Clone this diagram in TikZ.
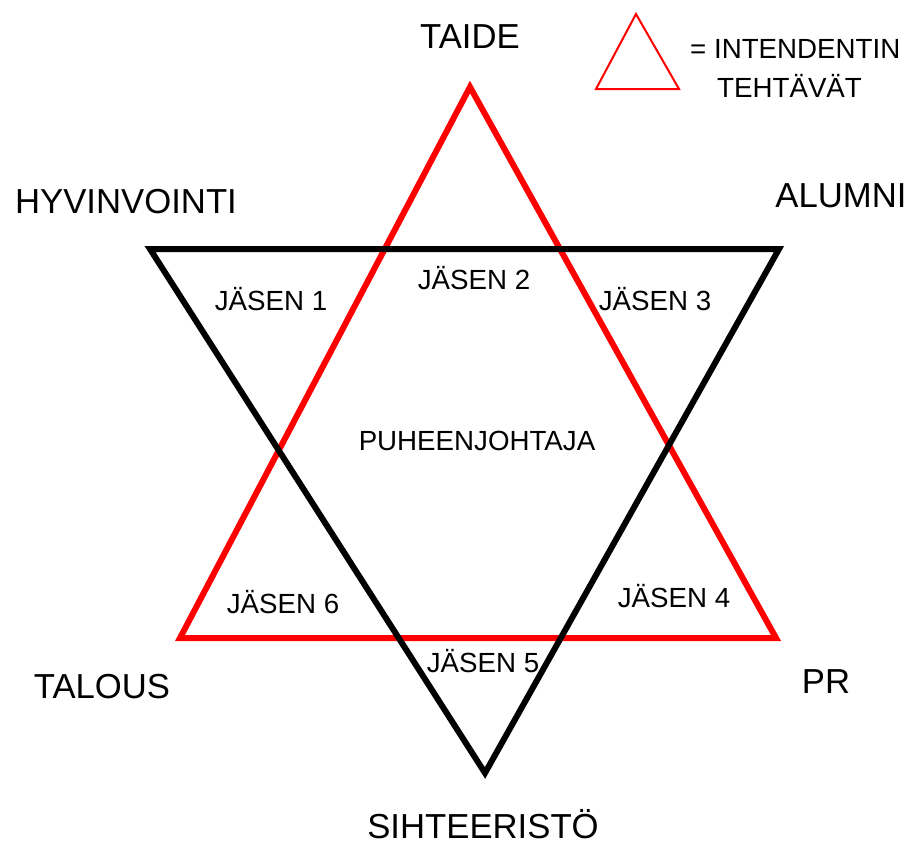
\documentclass[tikz,border=0pt]{standalone}
\usepackage{fontspec}
\setmainfont{Liberation Sans}
\usepackage{tikz}
\usetikzlibrary{calc}

\begin{document}
\begin{tikzpicture}[x=1pt, y=-1pt,
    area/.style={anchor=base, font=\fontsize{34.7}{40}\selectfont},
    member/.style={anchor=base, font=\fontsize{27.7}{32}\selectfont},
    intendent/.style={draw=red, line width=6pt, line join=miter},
    secretary/.style={draw=black, line width=6pt, line join=miter}]
    \useasboundingbox (0,0) rectangle (911,844);

    % red triangle
    \coordinate (T) at (470,87);
    \coordinate (L) at (180,638);
    \coordinate (R) at (776,638);
    % black triangle
    \coordinate (HL) at (150,249);
    \coordinate (HR) at (779,249);
    \coordinate (S) at (485,773);

    \draw[intendent] (T) -- (R) -- (L) -- cycle;
    \draw[secretary] (HL) -- (HR) -- (S) -- cycle;

    \node[area] (taide) at (470,48) {TAIDE};
    \node[area] (hyvinvointi) at (126,213) {HYVINVOINTI};
    \node[area] (alumni) at (841,207) {ALUMNI};
    \node[area] (talous) at (102,698) {TALOUS};
    \node[area] (pr) at (826,693) {PR};
    \node[area] (sihteeristo) at (483,838) {SIHTEERISTÖ};

    \node[member] (j2) at (474,289) {JÄSEN 2};
    \node[member] (j1) at (271,310) {JÄSEN 1};
    \node[member] (j3) at (655,310) {JÄSEN 3};
    \node[member] (pj) at (477,450) {PUHEENJOHTAJA};
    \node[member] (j6) at (283,613) {JÄSEN 6};
    \node[member] (j4) at (674,607) {JÄSEN 4};
    \node[member] (j5) at (483,672) {JÄSEN 5};

    % legend
    \coordinate (lT) at (636,14);
    \coordinate (lL) at (596,89);
    \coordinate (lR) at (679,89);
    \draw[red, line width=2pt] (lT) -- (lR) -- (lL) -- cycle;
    \node[member, anchor=base west, inner sep=0pt] (leg1) at (690,58) {= INTENDENTIN};
    \node[member, anchor=base west, inner sep=0pt] (leg2) at (717,97) {TEHTÄVÄT};
\end{tikzpicture}
\end{document}
